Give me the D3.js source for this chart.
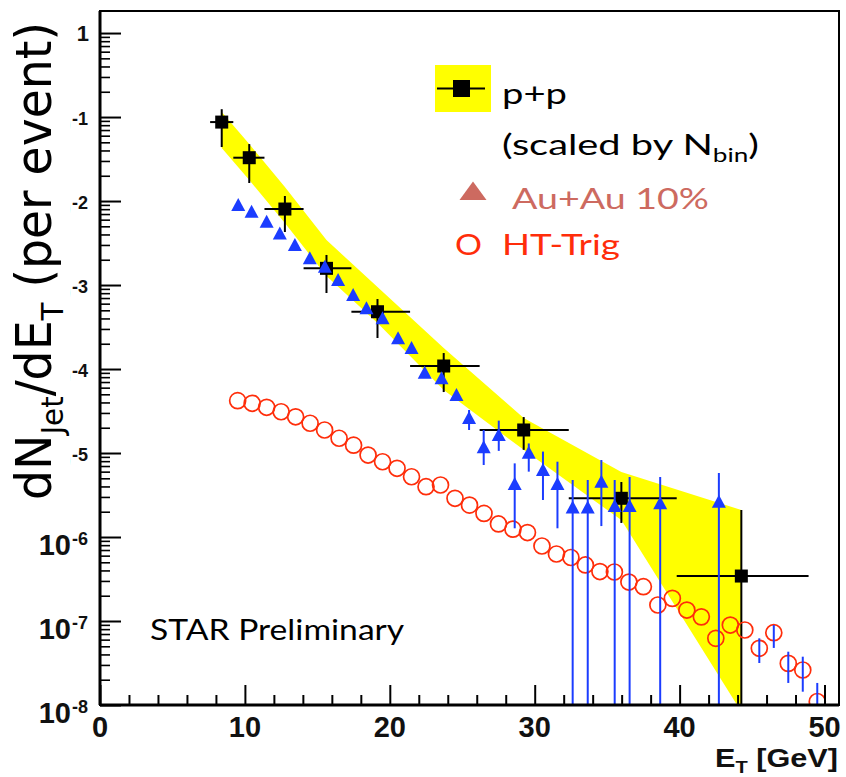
<!DOCTYPE html>
<html>
<head>
<meta charset="utf-8">
<script src="https://cdn.jsdelivr.net/npm/d3@7"></script>
<style>
  body { margin: 0; background: #fff; }
  svg { display: block; }
</style>
</head>
<body>
<svg id="chart" width="846" height="777"></svg>
<script>
// ---------------- data ----------------
// p+p reference (scaled by N_bin): bin centre, bin edges, value, stat. error limits
const ppE   = [8.4, 10.3, 12.76, 15.63, 19.15, 23.72, 29.24, 35.98, 44.26];
const ppXlo = [7.6, 9.2, 11.35, 14.05, 17.35, 21.4, 26.2, 32.35, 39.8];
const ppXhi = [9.2, 11.35, 14.05, 17.35, 21.4, 26.2, 32.35, 39.8, 48.9];
const ppY   = [0.0871, 0.0328, 0.00803, 0.00158, 4.81e-4, 1.086e-4, 1.88e-5, 2.89e-6, 3.43e-7];
const ppYhi = [0.124, 0.0477, 0.01148, 0.00228, 6.81e-4, 1.55e-4, 2.68e-5, 4.52e-6, 2.10e-6];
const ppYlo = [0.0440, 0.0164, 0.00428, 8.03e-4, 2.34e-4, 5.32e-5, 1.09e-5, 1.47e-6, 1e-9];
// systematic band of the p+p reference
const bandHi = [0.1147, 0.0477, 0.01468, 3.43e-3, 9.47e-4, 1.78e-4, 2.61e-5, 5.94e-6, 2.10e-6];
const bandLo = [0.0428, 0.01778, 5.47e-3, 1.28e-3, 3.53e-4, 5.62e-5, 1.09e-5, 1.59e-6, 8.3e-9];

// Au+Au 0-10% central
const auE = [9.54, 10.46, 11.5, 12.41, 13.45, 14.48, 15.52, 16.43, 17.47, 18.39,
             19.5, 20.57, 21.5, 22.41, 23.57, 24.6, 25.47, 26.48, 27.52, 28.62,
             29.59, 30.57, 31.57, 32.62, 33.66, 34.6, 35.52, 36.55, 38.66, 42.71];
const auY = [8.96e-3, 7.46e-3, 5.68e-3, 4.12e-3, 2.99e-3, 2.08e-3, 1.65e-3, 1.15e-3, 7.6e-4, 5.28e-4,
             4.02e-4, 2.32e-4, 1.78e-4, 9.03e-5, 7.75e-5, 4.9e-5, 2.61e-5, 1.17e-5, 1.64e-5, 4.28e-6,
             1.01e-5, 6.28e-6, 4.28e-6, 2.25e-6, 2.25e-6, 4.55e-6, 2.34e-6, 2.34e-6, 2.52e-6, 2.63e-6];
const auHi = [null, null, null, null, null, null, null, null, null, null,
              null, null, null, null, null, null, 3.25e-5, 1.88e-5, 2.43e-5, 7.53e-6,
              1.30e-5, 1.04e-5, 7.88e-6, 4.77e-6, 4.77e-6, 8.26e-6, 4.77e-6, 5.18e-6, 5.18e-6, 5.78e-6];
const auLo = [null, null, null, null, null, null, null, null, null, null,
              null, null, null, null, null, null, 1.88e-5, 7.2e-6, 1.06e-5, 1.27e-6,
              6.0e-6, 2.76e-6, 1.27e-6, 1e-9, 1e-9, 1.35e-6, 1e-9, 1e-9, 1e-9, 1e-9];

// HT-triggered spectrum
const htE = [9.5, 10.5, 11.5, 12.5, 13.5, 14.5, 15.5, 16.5, 17.5, 18.5,
             19.5, 20.5, 21.5, 22.5, 23.5, 24.5, 25.5, 26.5, 27.5, 28.5,
             29.5, 30.5, 31.5, 32.5, 33.5, 34.5, 35.5, 36.5, 37.5, 38.5,
             39.5, 40.5, 41.5, 42.5, 43.5, 44.5, 45.5, 46.5, 47.5, 48.5, 49.5];
const htY = [4.20e-5, 3.91e-5, 3.50e-5, 3.10e-5, 2.70e-5, 2.26e-5, 1.88e-5, 1.50e-5, 1.24e-5, 9.46e-6,
             7.87e-6, 6.58e-6, 5.22e-6, 3.97e-6, 4.16e-6, 2.89e-6, 2.40e-6, 1.91e-6, 1.43e-6, 1.24e-6,
             1.13e-6, 7.82e-7, 6.28e-7, 5.70e-7, 4.65e-7, 3.88e-7, 3.83e-7, 2.91e-7, 2.56e-7, 1.55e-7,
             1.86e-7, 1.35e-7, 1.12e-7, 6.22e-8, 8.95e-8, 7.82e-8, 4.73e-8, 7.26e-8, 3.13e-8, 2.61e-8, 1.10e-8];
const htHi = [null, null, null, null, null, null, null, null, null, null,
              null, null, null, null, null, null, null, null, null, null,
              null, null, null, null, null, null, null, null, null, null,
              null, null, null, null, null, null, 6.22e-8, 8.95e-8, 4.31e-8, 3.76e-8, 1.83e-8];
const htLo = [null, null, null, null, null, null, null, null, null, null,
              null, null, null, null, null, null, null, null, null, null,
              null, null, null, null, null, null, null, null, null, null,
              null, null, null, null, null, null, 3.16e-8, 4.78e-8, 1.83e-8, 1.44e-8, 1e-9];

// axis ticks
const xMajor = [0, 10, 20, 30, 40, 50];
const xMinor = d3.range(0, 51, 2).filter(v => v % 10 !== 0);
const yExp = [0, -1, -2, -3, -4, -5, -6, -7, -8];

// ---------------- layout ----------------
const frame = { left: 100, right: 839, top: 11, bottom: 705 };
const svg = d3.select("#chart");
const x = d3.scaleLinear().domain([0, 51]).range([frame.left, frame.right]);
const y = d3.scaleLog().domain([1e-8, 1.83]).range([frame.bottom, frame.top]);

const BLUE = "#1b3cff", RED = "#ff2d0a", ROSE = "#cd6a60", YELLOW = "#ffff00";
const labelFont = "'Liberation Sans', Arial, sans-serif";
const textFont = "Lato, 'Open Sans', sans-serif";

// stretch a text horizontally (in its own frame) to a given width
function fitWidth(sel, width) {
  const bb = sel.node().getBBox();
  const s = width / bb.width;
  sel.attr("transform", `translate(${bb.x},0) scale(${s},1) translate(${-bb.x},0)`);
}

svg.append("defs").append("clipPath").attr("id", "plotClip")
  .append("rect").attr("x", frame.left).attr("y", frame.top)
  .attr("width", frame.right - frame.left).attr("height", frame.bottom - frame.top);

const plot = svg.append("g").attr("clip-path", "url(#plotClip)");

// systematic band
const bandData = ppE.map((e, i) => ({ e, hi: bandHi[i], lo: bandLo[i] }));
plot.append("path")
  .datum(bandData)
  .attr("d", d3.area().x(d => x(d.e)).y0(d => y(d.lo)).y1(d => y(d.hi)))
  .attr("fill", YELLOW);

// p+p points
const pp = ppE.map((e, i) => ({ e, v: ppY[i], xl: ppXlo[i], xh: ppXhi[i], yh: ppYhi[i], yl: ppYlo[i] }));
const ppG = plot.append("g").attr("stroke", "#000").attr("stroke-width", 2);
ppG.selectAll("line.h").data(pp).join("line").attr("class", "h")
  .attr("x1", d => x(d.xl)).attr("x2", d => x(d.xh))
  .attr("y1", d => y(d.v)).attr("y2", d => y(d.v));
ppG.selectAll("line.v").data(pp).join("line").attr("class", "v")
  .attr("x1", d => x(d.e)).attr("x2", d => x(d.e))
  .attr("y1", d => y(d.yh)).attr("y2", d => y(d.yl));
plot.append("g").selectAll("rect").data(pp).join("rect")
  .attr("x", d => x(d.e) - 6.5).attr("y", d => y(d.v) - 6.5)
  .attr("width", 13).attr("height", 13).attr("fill", "#000");

// HT-trigger spectrum
const ht = htE.map((e, i) => ({ e, v: htY[i], hi: htHi[i], lo: htLo[i] }));
plot.append("g").selectAll("circle").data(ht).join("circle")
  .attr("cx", d => x(d.e)).attr("cy", d => y(d.v)).attr("r", 8)
  .attr("fill", "none").attr("stroke", RED).attr("stroke-width", 1.7);
plot.append("g").attr("stroke", BLUE).attr("stroke-width", 2)
  .selectAll("line").data(ht.filter(d => d.hi !== null)).join("line")
  .attr("x1", d => x(d.e)).attr("x2", d => x(d.e))
  .attr("y1", d => y(d.hi)).attr("y2", d => y(d.lo));

// Au+Au points
const au = auE.map((e, i) => ({ e, v: auY[i], hi: auHi[i], lo: auLo[i] }));
plot.append("g").attr("stroke", BLUE).attr("stroke-width", 2)
  .selectAll("line").data(au.filter(d => d.hi !== null)).join("line")
  .attr("x1", d => x(d.e)).attr("x2", d => x(d.e))
  .attr("y1", d => y(d.hi)).attr("y2", d => y(d.lo));
plot.append("g").selectAll("path").data(au).join("path")
  .attr("d", d => {
    const cx = x(d.e), cy = y(d.v);
    return `M${cx},${cy - 7}L${cx + 7},${cy + 6}L${cx - 7},${cy + 6}Z`;
  })
  .attr("fill", BLUE);

// ---------------- axes ----------------
const axG = svg.append("g");
axG.append("g").attr("transform", `translate(0,${frame.bottom})`)
  .call(d3.axisBottom(x).tickValues(xMajor).tickSize(-20).tickFormat(""))
  .call(g => g.select(".domain").remove())
  .selectAll("line").attr("stroke-width", 2);
axG.append("g").attr("transform", `translate(0,${frame.bottom})`)
  .call(d3.axisBottom(x).tickValues(xMinor).tickSize(-10).tickFormat(""))
  .call(g => g.select(".domain").remove())
  .selectAll("line").attr("stroke-width", 2);

const yMinor = [];
yExp.forEach(p => { if (p < 0) for (let k = 2; k <= 9; k++) yMinor.push(k * Math.pow(10, p)); });
axG.append("g").attr("transform", `translate(${frame.left},0)`)
  .call(d3.axisLeft(y).tickValues(yExp.map(p => Math.pow(10, p))).tickSize(-21).tickFormat(""))
  .call(g => g.select(".domain").remove())
  .selectAll("line").attr("stroke-width", 2);
axG.append("g").attr("transform", `translate(${frame.left},0)`)
  .call(d3.axisLeft(y).tickValues(yMinor).tickSize(-10).tickFormat(""))
  .call(g => g.select(".domain").remove())
  .selectAll("line").attr("stroke-width", 1.6);

// frame
svg.append("rect")
  .attr("x", frame.left).attr("y", frame.top)
  .attr("width", frame.right - frame.left).attr("height", frame.bottom - frame.top)
  .attr("fill", "none").attr("stroke", "#000").attr("stroke-width", 2);
svg.append("line").attr("x1", frame.left).attr("x2", frame.right)
  .attr("y1", frame.bottom).attr("y2", frame.bottom).attr("stroke", "#000").attr("stroke-width", 3);
svg.append("line").attr("x1", frame.left).attr("x2", frame.left)
  .attr("y1", frame.top).attr("y2", frame.bottom).attr("stroke", "#000").attr("stroke-width", 3);

// x tick labels
svg.append("g").selectAll("text").data(xMajor).join("text")
  .attr("x", d => x(d)).attr("y", 737)
  .attr("text-anchor", "middle")
  .attr("font-family", labelFont).attr("font-weight", "bold").attr("font-size", 29)
  .attr("fill", "#111")
  .text(d => d);

// y tick labels
const yl = svg.append("g").attr("font-family", labelFont).attr("font-weight", "bold").attr("fill", "#111");
yExp.forEach(p => {
  const ty = y(Math.pow(10, p));
  if (p === 0) {
    yl.append("text").attr("x", 89).attr("y", ty + 8).attr("text-anchor", "end")
      .attr("font-size", 22).text("1");
  } else {
    yl.append("text").attr("x", 71).attr("y", ty + 17.5).attr("text-anchor", "end")
      .attr("font-size", 29).text("10");
    yl.append("text").attr("x", 72).attr("y", ty + 7.5).attr("text-anchor", "start")
      .attr("font-size", 18).text("-" + (-p));
  }
});

// y axis title on a white backdrop
svg.append("rect").attr("x", 0).attr("y", 0).attr("width", 70).attr("height", 512).attr("fill", "#fff");
const yt = svg.append("g").attr("transform", "translate(51,500) rotate(-90)")
  .append("text").attr("x", 0).attr("y", 0)
  .attr("font-family", "'DejaVu Sans', sans-serif").attr("font-size", 50).attr("fill", "#000");
yt.append("tspan").text("dN");
yt.append("tspan").attr("font-size", 31).attr("dy", 12).text("Jet");
yt.append("tspan").attr("dy", -12).text("/dE");
yt.append("tspan").attr("font-size", 31).attr("dy", 12).text("T");
yt.append("tspan").attr("dy", -12).text(" (per event)");
fitWidth(yt, 478);

// x axis title
const xt = svg.append("text").attr("x", 715).attr("y", 767)
  .attr("font-family", labelFont).attr("font-weight", "bold").attr("font-size", 26).attr("fill", "#111");
xt.append("tspan").text("E");
xt.append("tspan").attr("font-size", 17).attr("dy", 6).text("T");
xt.append("tspan").attr("dy", -6).text(" [GeV]");
fitWidth(xt, 123);

// ---------------- legend ----------------
const lg = svg.append("g");
lg.append("rect").attr("x", 435).attr("y", 65).attr("width", 56).attr("height", 47).attr("fill", YELLOW);
lg.append("line").attr("x1", 437).attr("x2", 485).attr("y1", 88.5).attr("y2", 88.5)
  .attr("stroke", "#000").attr("stroke-width", 2);
lg.append("rect").attr("x", 453).attr("y", 80).attr("width", 17).attr("height", 17).attr("fill", "#000");

const t1 = lg.append("text").attr("x", 502).attr("y", 104)
  .attr("font-family", textFont).attr("font-size", 29).attr("fill", "#000").text("p+p");
fitWidth(t1, 65);
const t2 = lg.append("text").attr("x", 502).attr("y", 155)
  .attr("font-family", textFont).attr("font-size", 29).attr("fill", "#000");
t2.append("tspan").text("(scaled by N");
t2.append("tspan").attr("font-size", 19).attr("dy", 7).text("bin");
t2.append("tspan").attr("dy", -7).text(")");
fitWidth(t2, 257);

lg.append("path").attr("d", "M473,181.5L486.5,200L459.5,200Z").attr("fill", ROSE);
const t3 = lg.append("text").attr("x", 512).attr("y", 209)
  .attr("font-family", textFont).attr("font-size", 29).attr("fill", ROSE).text("Au+Au 10%");
fitWidth(t3, 197);

const t4 = lg.append("text").attr("x", 455).attr("y", 255)
  .attr("font-family", textFont).attr("font-size", 29).attr("fill", RED).text("O");
fitWidth(t4, 27);
const t5 = lg.append("text").attr("x", 502).attr("y", 255)
  .attr("font-family", textFont).attr("font-size", 29).attr("fill", RED).text("HT-Trig");
fitWidth(t5, 118);

const star = svg.append("text").attr("x", 150).attr("y", 640)
  .attr("font-family", textFont).attr("font-size", 28).attr("fill", "#000").text("STAR Preliminary");
fitWidth(star, 255);
</script>
</body>
</html>
